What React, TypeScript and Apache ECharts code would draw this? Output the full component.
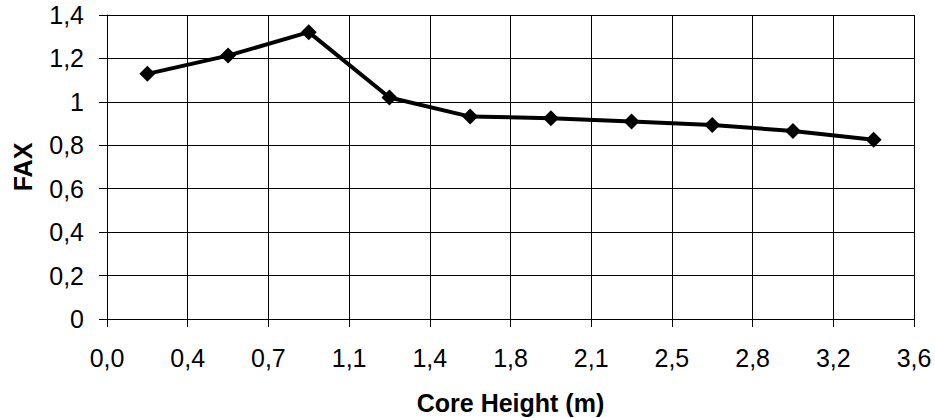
import React, { useEffect, useRef } from "react";
import * as echarts from "echarts";

const coreHeight = [0.1775, 0.5325, 0.8875, 1.2425, 1.5975, 1.9525, 2.3075, 2.6625, 3.0175, 3.3725];
const faxValues = [1.129, 1.213, 1.321, 1.02, 0.932, 0.925, 0.909, 0.893, 0.866, 0.825];
const xTickLabels = ["0,0", "0,4", "0,7", "1,1", "1,4", "1,8", "2,1", "2,5", "2,8", "3,2", "3,6"];
const yTickLabels = ["0", "0,2", "0,4", "0,6", "0,8", "1", "1,2", "1,4"];

const X_MAX = 3.55;
const X_STEP = 0.355;

export default function App() {
  const ref = useRef<HTMLDivElement>(null);
  useEffect(() => {
    if (!ref.current) return;
    const chart = echarts.init(ref.current, null, { renderer: "svg" });
    const font = "'Liberation Sans', Arial, sans-serif";
    chart.setOption({
      animation: false,
      backgroundColor: "#ffffff",
      grid: { left: 107, right: 21, top: 15, bottom: 99, containLabel: false, outerBoundsMode: "none" },
      xAxis: {
        type: "value",
        min: 0,
        max: X_MAX,
        interval: X_STEP,
        name: "Core Height (m)",
        nameLocation: "middle",
        nameGap: 71,
        nameTextStyle: { fontFamily: font, fontSize: 25, fontWeight: "bold", color: "#000" },
        axisLine: { show: true, lineStyle: { color: "#000", width: 1 } },
        axisTick: { show: true, length: 8, lineStyle: { color: "#000" } },
        axisLabel: {
          fontFamily: font,
          fontSize: 25,
          color: "#000",
          margin: 26,
          formatter: (v: number) => xTickLabels[Math.round(v / X_STEP)] ?? "",
        },
        splitLine: { show: true, lineStyle: { color: "#000", width: 1 } },
      },
      yAxis: {
        type: "value",
        min: 0,
        max: 1.4,
        interval: 0.2,
        name: "FAX",
        nameLocation: "middle",
        nameGap: 72,
        nameRotate: 90,
        nameTextStyle: { fontFamily: font, fontSize: 25, fontWeight: "bold", color: "#000" },
        axisLine: { show: true, lineStyle: { color: "#000", width: 1 } },
        axisTick: { show: true, length: 8, lineStyle: { color: "#000" } },
        axisLabel: {
          fontFamily: font,
          fontSize: 25,
          color: "#000",
          margin: 23,
          formatter: (v: number) => yTickLabels[Math.round(v / 0.2)] ?? "",
        },
        splitLine: { show: true, lineStyle: { color: "#000", width: 1 } },
      },
      series: [
        {
          type: "line",
          data: coreHeight.map((x, i) => [x, faxValues[i]]),
          symbol: "diamond",
          symbolSize: 16,
          lineStyle: { color: "#000", width: 4 },
          itemStyle: { color: "#000" },
        },
      ],
    });
    return () => chart.dispose();
  }, []);
  return <div ref={ref} style={{ width: 935, height: 418, position: "absolute", left: 0, top: 0 }} />;
}
